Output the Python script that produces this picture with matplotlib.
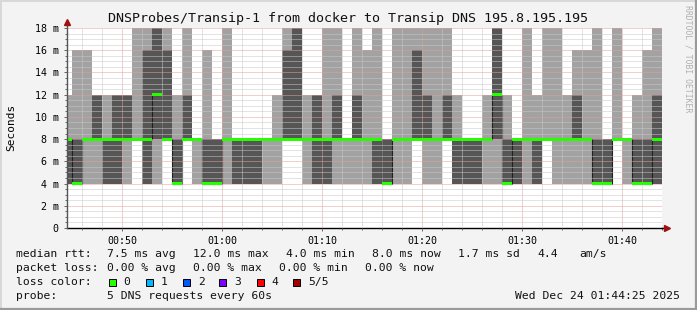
import numpy as np
from matplotlib import pyplot as plt
from matplotlib.patches import Rectangle
from matplotlib.lines import Line2D
from matplotlib.ticker import MultipleLocator, FuncFormatter

# minutes since 00:00, one column per minute (first one is half a minute)
edges = [44.5] + list(range(45, 105))

# 5 DNS pings per minute, sorted low -> high (ms)
ping1 = [4, 4, 4, 4, 4, 4, 4, 8, 4, 4, 8, 4, 8, 4, 4, 4, 4, 4, 4, 4,
         4, 4, 8, 8, 4, 4, 4, 4, 4, 4, 4, 4, 4, 4, 4, 8, 4, 4, 8, 4,
         4, 4, 4, 4, 4, 4, 4, 4, 8, 4, 4, 4, 4, 4, 4, 8, 4, 4, 4, 4]
ping2 = [4, 4, 8, 8, 4, 4, 8, 8, 4, 8, 8, 4, 8, 8, 4, 4, 8, 4, 4, 4,
         8, 8, 8, 8, 8, 4, 4, 8, 8, 8, 8, 4, 4, 8, 8, 8, 8, 8, 8, 4,
         4, 4, 8, 8, 4, 4, 8, 4, 8, 8, 8, 8, 8, 4, 4, 8, 8, 4, 4, 4]
ping3 = [8, 4, 8, 8, 8, 8, 8, 8, 8, 12, 8, 4, 8, 8, 4, 4, 8, 8, 8, 8,
         8, 8, 8, 8, 8, 8, 8, 8, 8, 8, 8, 8, 4, 8, 8, 8, 8, 8, 8, 8,
         8, 8, 8, 12, 4, 8, 8, 8, 8, 8, 8, 8, 8, 4, 4, 8, 8, 4, 4, 8]
ping4 = [8, 8, 8, 12, 8, 12, 12, 8, 16, 20, 16, 8, 12, 8, 8, 8, 8, 8, 8, 8,
         8, 8, 16, 20, 8, 12, 8, 12, 8, 12, 8, 8, 8, 8, 8, 16, 12, 8, 12, 8,
         8, 8, 8, 20, 8, 8, 8, 8, 8, 8, 8, 12, 8, 8, 8, 8, 8, 8, 8, 12]
ping5 = [12, 16, 16, 12, 12, 12, 12, 20, 20, 20, 20, 12, 20, 8, 16, 8, 20, 8, 8, 8,
         8, 12, 20, 20, 12, 12, 20, 20, 8, 20, 16, 20, 8, 20, 20, 20, 20, 20, 20, 12,
         8, 8, 12, 20, 12, 8, 20, 12, 20, 20, 12, 16, 16, 20, 8, 20, 8, 12, 16, 20]

ping1, ping2, ping3, ping4, ping5 = [np.array(p, dtype=float) for p in (ping1, ping2, ping3, ping4, ping5)]

loss_labels = ['0', '1', '2', '3', '4', '5/5']
loss_colors = ['#26ff00', '#00b8ff', '#0059ff', '#7e00ff', '#ff0000', '#a10000']

W, H = 697, 310
def fx(x): return x / W
def fy(y): return 1 - y / H

mono = 'DejaVu Sans Mono'
plt.rcParams['font.family'] = mono

fig = plt.figure(figsize=(W / 100, H / 100), dpi=100, facecolor='#f3f3f3')
ax = fig.add_axes([fx(67), fy(228), fx(662) - fx(67), fy(28) - fy(228)])
ax.set_facecolor('white')

# smoke: outer pair light, inner pair dark
ax.stairs(ping5, edges, baseline=ping1, fill=True, color='#a2a2a2', zorder=1)
ax.stairs(ping4, edges, baseline=ping2, fill=True, color='#565656', zorder=1.2)
# median
ax.stairs(ping3, edges, baseline=None, color='#202020', lw=0.8, zorder=2)
sw = 0.14
ax.stairs(ping3 + sw, edges, baseline=ping3 - sw, fill=True, color=loss_colors[0], lw=0, zorder=3)

ax.set_xlim(44.5, 104)
ax.set_ylim(0, 18)

ax.xaxis.set_major_locator(MultipleLocator(10))
ax.xaxis.set_minor_locator(MultipleLocator(2))
ax.yaxis.set_major_locator(MultipleLocator(2))
ax.yaxis.set_minor_locator(MultipleLocator(0.5))
ax.xaxis.set_major_formatter(FuncFormatter(lambda v, p: '%02d:%02d' % (int(v) // 60, int(v) % 60)))
ax.yaxis.set_major_formatter(FuncFormatter(lambda v, p: '%d m' % v if v else '0'))

ax.set_axisbelow(False)
ax.grid(which='major', color='#e4a0a0', lw=0.72, linestyle=(0, (1, 1)))
ax.grid(which='minor', color='#c8c8c8', lw=0.72, linestyle=(0, (1, 1)))

ax.tick_params(which='both', direction='out', color='#666666', width=0.7, labelsize=7.2)
ax.tick_params(which='major', length=2.5)
ax.tick_params(which='minor', length=1.5)
ax.tick_params(axis='y', pad=3.5)
ax.tick_params(axis='x', pad=3)

for s in ('top', 'right'):
    ax.spines[s].set_visible(False)
ax.spines['bottom'].set_color('black')
ax.spines['bottom'].set_linewidth(1)
ax.spines['left'].set_visible(False)

# axes with arrows
ax.plot([0, 0], [0, 1.03], transform=ax.transAxes, color='#555555', lw=1, clip_on=False, zorder=4)
ax.plot([1.0, 1.008], [0, 0], transform=ax.transAxes, color='black', lw=1, clip_on=False, zorder=4)
ax.plot(0, 1.03, marker='^', ms=4, color='#a01010', transform=ax.transAxes, clip_on=False, zorder=5)
ax.plot(1.008, 0, marker='>', ms=4, color='#a01010', transform=ax.transAxes, clip_on=False, zorder=5)

fig.text(0.5, fy(18.5), 'DNSProbes/Transip-1 from docker to Transip DNS 195.8.195.195',
         ha='center', va='center', fontsize=9.6, color='#111111')
fig.text(fx(11), fy(127), 'Seconds', rotation=90, ha='center', va='center', fontsize=8)
fig.text(fx(688), fy(5), 'RRDTOOL / TOBI OETIKER', rotation=270, ha='center', va='top',
         fontsize=5.9, color='#b0b0b0')

fs = 8.2
rows = [
    (254, [(16, 'median rtt:'), (107, '7.5 ms avg'), (193, '12.0 ms max'), (286, '4.0 ms min'),
           (372, '8.0 ms now'), (458, '1.7 ms sd'), (537, '4.4'), (579, 'am/s')]),
    (268, [(16, 'packet loss:'), (107, '0.00 % avg'), (193, '0.00 % max'), (279, '0.00 % min'),
           (365, '0.00 % now')]),
    (282, [(16, 'loss color:')]),
    (296, [(16, 'probe:'), (107, '5 DNS requests every 60s')]),
]
for y, items in rows:
    for x, t in items:
        fig.text(fx(x), fy(y), t, ha='left', va='center', fontsize=fs, color='#111111')

box_x = [109, 146, 183, 219, 257, 293]
lab_x = [123, 161, 198, 234, 271, 308]
for bx, lx, lab, c in zip(box_x, lab_x, loss_labels, loss_colors):
    fig.add_artist(Rectangle((fx(bx), fy(286)), 7 / W, 7 / H, transform=fig.transFigure,
                             facecolor=c, edgecolor='black', lw=0.7))
    fig.text(fx(lx), fy(282), lab, ha='left', va='center', fontsize=fs, color='#111111')

fig.text(fx(680), fy(296), 'Wed Dec 24 01:44:25 2025', ha='right', va='center', fontsize=fs, color='#111111')

# frame shading
fig.add_artist(Line2D([0, 1], [fy(0.5), fy(0.5)], color='#d8d8d8', lw=1.4, transform=fig.transFigure))
fig.add_artist(Line2D([fx(0.5), fx(0.5)], [0, 1], color='#d8d8d8', lw=1.4, transform=fig.transFigure))
fig.add_artist(Line2D([0, 1], [fy(309), fy(309)], color='#9a9a9a', lw=1.6, transform=fig.transFigure))
fig.add_artist(Line2D([fx(696), fx(696)], [0, 1], color='#9a9a9a', lw=1.6, transform=fig.transFigure))

fig.savefig('out.png', dpi=100, facecolor=fig.get_facecolor())
